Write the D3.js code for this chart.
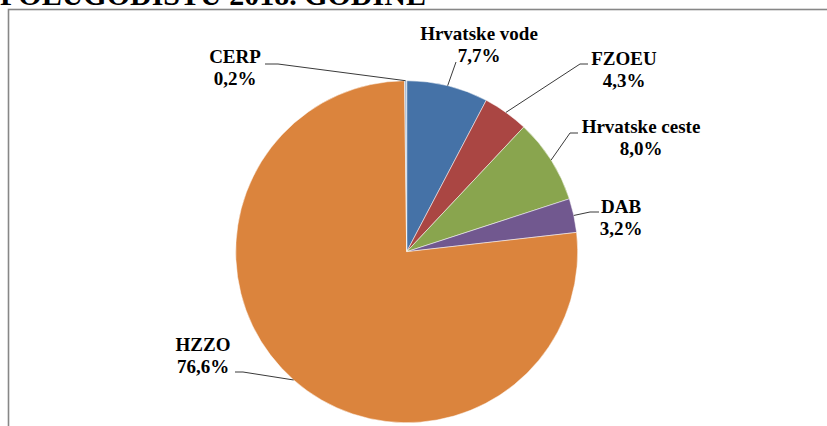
<!DOCTYPE html>
<html>
<head>
<meta charset="utf-8">
<script src="https://cdn.jsdelivr.net/npm/d3@7"></script>
<style>
  body { margin: 0; background: #fff; }
  svg { display: block; }
  svg text { font-family: "Liberation Serif", "Times New Roman", Times, serif; font-weight: bold; }
</style>
</head>
<body>
<div id="chart"></div>
<script>
'use strict';

// data, clockwise from 12 o'clock
const names   = ["Hrvatske vode", "FZOEU", "Hrvatske ceste", "DAB", "HZZO", "CERP"];
const shares  = [7.7, 4.3, 8.0, 3.2, 76.6, 0.2];
const colours = ["#4572A7", "#AA4643", "#89A54E", "#71588F", "#DB843D", "#A5B8D3"];
const title   = "POLUGODIŠTU 2018. GODINE";

// where each label and its leader elbow sit (layout only)
const labelPos = {
  "Hrvatske vode":  { ex: 456, ey: 62,  hx: 456, hy: 62,  tx: 479, ty: 40 },
  "FZOEU":          { ex: 580, ey: 64,  hx: 588, hy: 64,  tx: 624, ty: 65 },
  "Hrvatske ceste": { ex: 570, ey: 133, hx: 578, hy: 133, tx: 641, ty: 133 },
  "DAB":            { ex: 590, ey: 212, hx: 599, hy: 212, tx: 621, ty: 213 },
  "HZZO":           { ex: 243, ey: 372, hx: 235, hy: 372, tx: 203, ty: 351 },
  "CERP":           { ex: 278, ey: 64,  hx: 265, hy: 64,  tx: 235, ty: 63 }
};

const m = { width: 827, height: 426, cx: 406.7, cy: 251.7, r: 171 };

window.onload = function() {
  let svg = d3.select('#chart')
    .append('svg')
    .attr('width', m.width)
    .attr('height', m.height);

  // title of the page above the chart, mostly cut off in the original
  svg.append('text')
    .attr('x', 0)
    .attr('y', 5)
    .attr('font-family', 'Liberation Serif')
    .style('font-size', '30px')
    .text(title);

  // chart frame
  svg.append('rect')
    .attr('x', 8.5)
    .attr('y', 9.5)
    .attr('width', 840)
    .attr('height', 440)
    .attr('fill', 'none')
    .attr('stroke', '#878787')
    .attr('stroke-width', 1.6);

  let data = names.map((n, i) => ({ name: n, value: shares[i], colour: colours[i] }));

  let pie = d3.pie()
    .sort(null)
    .value(d => d.value);

  let arc = d3.arc()
    .innerRadius(0)
    .outerRadius(m.r);

  let g = svg.append('g')
    .attr('transform', 'translate(' + m.cx + ',' + m.cy + ')');

  let arcs = pie(data);

  g.selectAll('.slice')
    .data(arcs)
    .enter()
    .append('path')
    .attr('class', 'slice')
    .attr('d', arc)
    .attr('fill', d => d.data.colour)
    .attr('stroke', '#fff')
    .attr('stroke-width', 0.5);

  // leader lines from the rim at the slice mid angle
  svg.selectAll('.leader')
    .data(arcs)
    .enter()
    .append('polyline')
    .attr('class', 'leader')
    .attr('fill', 'none')
    .attr('stroke', '#3a3a3a')
    .attr('stroke-width', 1)
    .attr('points', function(d) {
      let a = (d.startAngle + d.endAngle) / 2;
      let p = labelPos[d.data.name];
      let rx = m.cx + m.r * Math.sin(a);
      let ry = m.cy - m.r * Math.cos(a);
      return [[rx, ry], [p.ex, p.ey], [p.hx, p.hy]].map(q => q.join(',')).join(' ');
    });

  let fmt = v => v.toFixed(1).replace('.', ',') + '%';

  let labels = svg.selectAll('.label')
    .data(arcs)
    .enter()
    .append('text')
    .attr('class', 'label')
    .attr('text-anchor', 'middle')
    .attr('font-family', 'Liberation Serif')
    .style('font-size', '19px')
    .attr('fill', '#000');

  labels.append('tspan')
    .attr('x', d => labelPos[d.data.name].tx)
    .attr('y', d => labelPos[d.data.name].ty)
    .text(d => d.data.name);

  labels.append('tspan')
    .attr('x', d => labelPos[d.data.name].tx)
    .attr('y', d => labelPos[d.data.name].ty + 22)
    .text(d => fmt(d.data.value));
}
</script>
</body>
</html>
